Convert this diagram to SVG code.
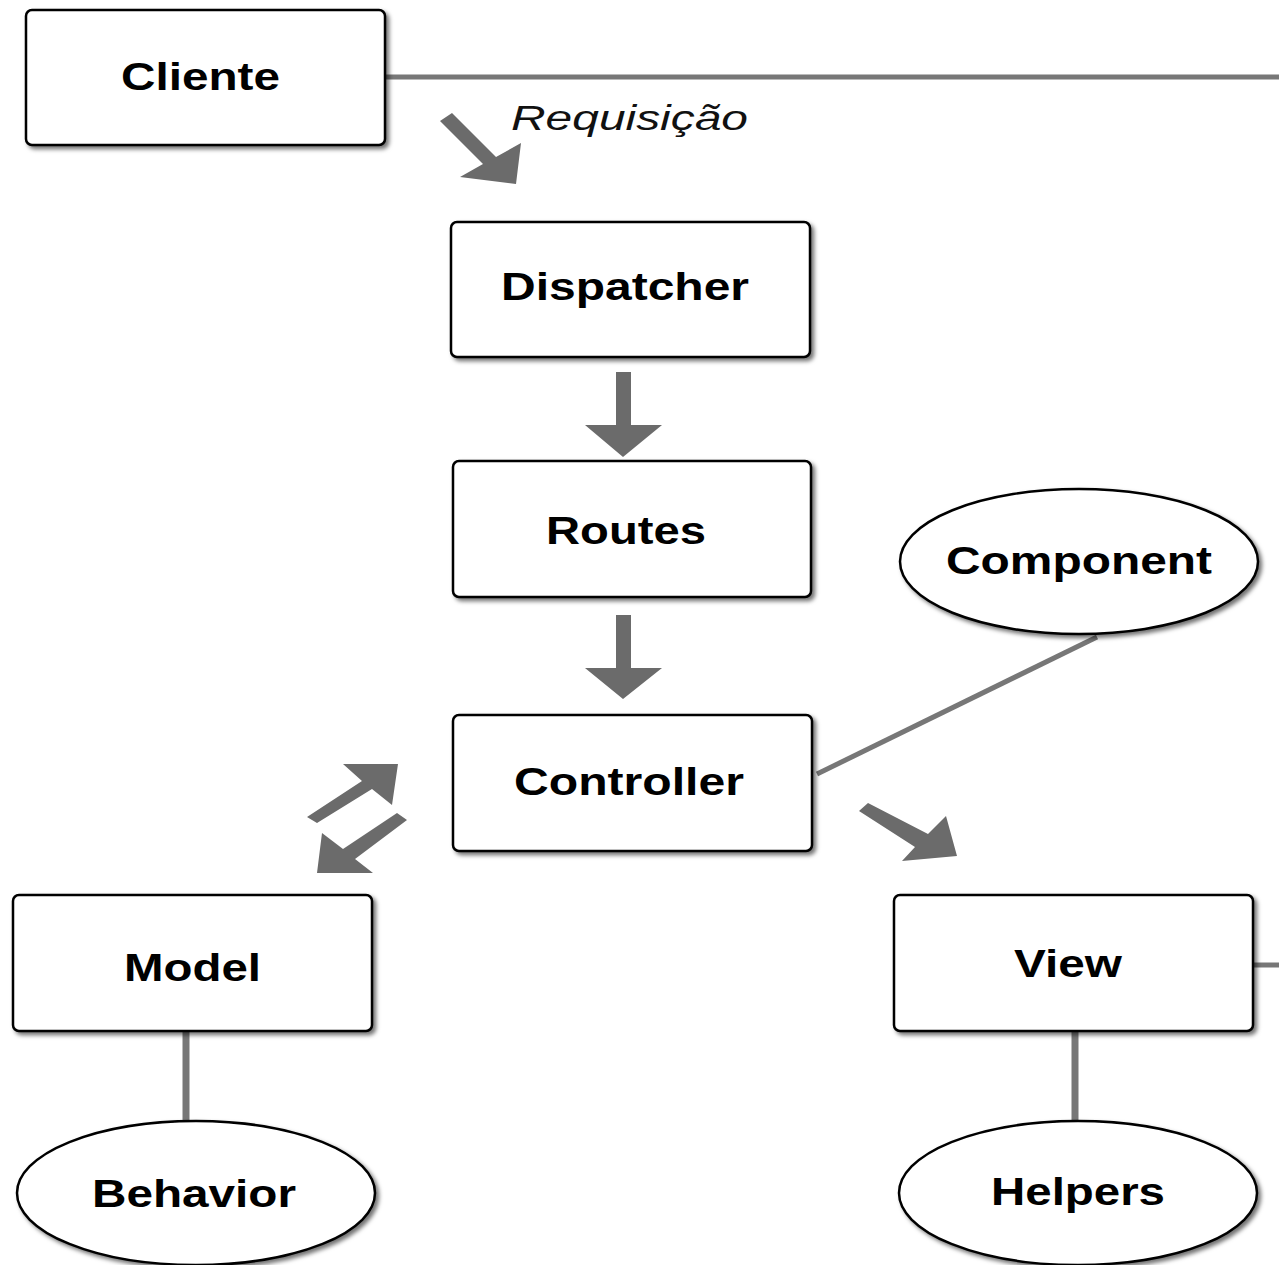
<svg xmlns="http://www.w3.org/2000/svg" width="1279" height="1265" viewBox="0 0 1279 1265">
<defs>
<filter id="sh" x="-10%" y="-10%" width="125%" height="130%">
<feDropShadow dx="3" dy="3" stdDeviation="2" flood-color="#000" flood-opacity="0.55"/>
</filter>
<style>
.box{fill:#fff;stroke:#000;stroke-width:2.5;filter:url(#sh)}
.lbl{font-family:"Liberation Sans",Arial,sans-serif;font-weight:bold;font-size:38px;fill:#000}
.ln{stroke:#777;fill:none}
.ar{fill:#6b6b6b}
</style>
</defs>
<rect width="1279" height="1265" fill="#fff"/>
<g id="connectors">
<line class="ln" x1="385" y1="77" x2="1279" y2="77" stroke-width="5"/>
<line class="ln" x1="1253" y1="965" x2="1279" y2="965" stroke-width="5"/>
<line class="ln" x1="186" y1="1031" x2="186" y2="1122" stroke-width="7"/>
<line class="ln" x1="1075" y1="1031" x2="1075" y2="1122" stroke-width="7"/>
<line class="ln" x1="817" y1="774" x2="1097" y2="637" stroke-width="5"/>
<polygon class="ar" points="452,113 496,157 521,143 516,184 460,177 483,164 440,121"/>
<polygon class="ar" points="616,372 631,372 631,425 662,425 623,457 585,425 616,425"/>
<polygon class="ar" points="616,615 631,615 631,668 662,668 623,699 585,668 616,668"/>
<polygon class="ar" points="307,817 362,781 343,764 398,764 392,805 372,789 317,823"/>
<polygon class="ar" points="397,813 343,849 322,833 317,873 373,873 355,859 407,820"/>
<polygon class="ar" points="868,803 928,834 946,816 957,856 902,861 915,847 859,811"/>
<text x="511" y="130" font-family="Liberation Sans, Arial, sans-serif" font-style="italic" font-size="35" textLength="237" lengthAdjust="spacingAndGlyphs" fill="#111">Requisição</text>
</g>
<g id="cliente"><rect class="box" x="26" y="10" width="359" height="135" rx="6"/><text class="lbl" x="121" y="90" textLength="159" lengthAdjust="spacingAndGlyphs">Cliente</text></g>
<g id="dispatcher"><rect class="box" x="451" y="222" width="359" height="135" rx="6"/><text class="lbl" x="501" y="300" textLength="248" lengthAdjust="spacingAndGlyphs">Dispatcher</text></g>
<g id="routes"><rect class="box" x="453" y="461" width="358" height="136" rx="6"/><text class="lbl" x="546" y="544" textLength="160" lengthAdjust="spacingAndGlyphs">Routes</text></g>
<g id="controller"><rect class="box" x="453" y="715" width="359" height="136" rx="6"/><text class="lbl" x="514" y="795" textLength="230" lengthAdjust="spacingAndGlyphs">Controller</text></g>
<g id="model"><rect class="box" x="13" y="895" width="359" height="136" rx="6"/><text class="lbl" x="124" y="981" textLength="137" lengthAdjust="spacingAndGlyphs">Model</text></g>
<g id="view"><rect class="box" x="894" y="895" width="359" height="136" rx="6"/><text class="lbl" x="1014" y="977" textLength="108" lengthAdjust="spacingAndGlyphs">View</text></g>
<g id="component"><ellipse class="box" cx="1079" cy="561.5" rx="179" ry="72.5"/><text class="lbl" x="946" y="574" textLength="266" lengthAdjust="spacingAndGlyphs">Component</text></g>
<g id="behavior"><ellipse class="box" cx="196" cy="1193" rx="179" ry="72"/><text class="lbl" x="92" y="1207" textLength="204" lengthAdjust="spacingAndGlyphs">Behavior</text></g>
<g id="helpers"><ellipse class="box" cx="1078" cy="1193" rx="179" ry="72"/><text class="lbl" x="991" y="1205" textLength="174" lengthAdjust="spacingAndGlyphs">Helpers</text></g>
</svg>
